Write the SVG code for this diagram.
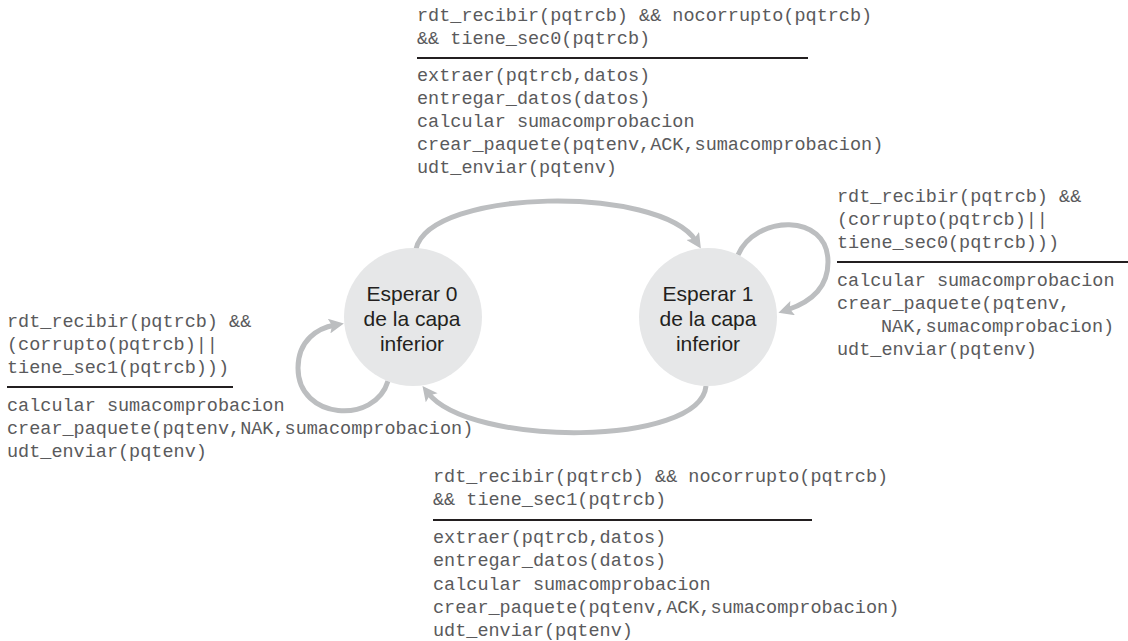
<svg xmlns="http://www.w3.org/2000/svg" width="1128" height="641" viewBox="0 0 1128 641">
<style>
.node circle{fill:#e6e7e8;stroke:none}
.node text{font-family:"Liberation Sans",Arial,sans-serif;font-size:21px;fill:#231f20;text-anchor:middle}
.lbl text{font-family:"Liberation Mono","Courier New",monospace;font-size:18.5px;fill:#5a5a5c}
.lbl line{stroke:#231f20;stroke-width:2}
.edge{fill:none;stroke:#bcbec0;stroke-width:5}
</style>
<defs>
<marker id="ah" viewBox="0 0 10 10" refX="4" refY="5" markerWidth="16" markerHeight="15" markerUnits="userSpaceOnUse" orient="auto">
<path d="M0,0 L10,5 L0,10 L2,5 z" fill="#bcbec0"/>
</marker>
</defs>
<rect width="1128" height="641" fill="#ffffff"/>
<g id="connectors">
<path class="edge" d="M416 249 C430 188,660 185,696 241" marker-end="url(#ah)"/>
<path class="edge" d="M706 386 C700 447,470 447,428 393" marker-end="url(#ah)"/>
<path class="edge" d="M388 381 C375 425,298 420,298 368 C298 340,318 328,335 325" marker-end="url(#ah)"/>
<path class="edge" d="M738 255 C755 215,828 212,828 262 C828 290,808 303,787 310" marker-end="url(#ah)"/>
</g>
<g id="state0" class="node">
<circle cx="413" cy="317" r="69"/>
<text x="412" y="301">Esperar 0</text>
<text x="412" y="326">de la capa</text>
<text x="412" y="351">inferior</text>
</g>
<g id="state1" class="node">
<circle cx="708" cy="317" r="69"/>
<text x="708" y="301">Esperar 1</text>
<text x="708" y="326">de la capa</text>
<text x="708" y="351">inferior</text>
</g>
<g id="label-top" class="lbl">
<text x="417" y="21">rdt_recibir(pqtrcb) &amp;&amp; nocorrupto(pqtrcb)</text>
<text x="417" y="44">&amp;&amp; tiene_sec0(pqtrcb)</text>
<line x1="417" y1="58" x2="808" y2="58"/>
<text x="417" y="81">extraer(pqtrcb,datos)</text>
<text x="417" y="104">entregar_datos(datos)</text>
<text x="417" y="127">calcular sumacomprobacion</text>
<text x="417" y="150">crear_paquete(pqtenv,ACK,sumacomprobacion)</text>
<text x="417" y="173">udt_enviar(pqtenv)</text>
</g>
<g id="label-right" class="lbl">
<text x="837" y="202">rdt_recibir(pqtrcb) &amp;&amp;</text>
<text x="837" y="225">(corrupto(pqtrcb)||</text>
<text x="837" y="248">tiene_sec0(pqtrcb)))</text>
<line x1="837" y1="262" x2="1128" y2="262"/>
<text x="837" y="286">calcular sumacomprobacion</text>
<text x="837" y="309">crear_paquete(pqtenv,</text>
<text x="881" y="332">NAK,sumacomprobacion)</text>
<text x="837" y="355">udt_enviar(pqtenv)</text>
</g>
<g id="label-left" class="lbl">
<text x="7" y="327">rdt_recibir(pqtrcb) &amp;&amp;</text>
<text x="7" y="350">(corrupto(pqtrcb)||</text>
<text x="7" y="373">tiene_sec1(pqtrcb)))</text>
<line x1="7" y1="387" x2="233" y2="387"/>
<text x="7" y="411">calcular sumacomprobacion</text>
<text x="7" y="434">crear_paquete(pqtenv,NAK,sumacomprobacion)</text>
<text x="7" y="457">udt_enviar(pqtenv)</text>
</g>
<g id="label-bottom" class="lbl">
<text x="433" y="482">rdt_recibir(pqtrcb) &amp;&amp; nocorrupto(pqtrcb)</text>
<text x="433" y="505">&amp;&amp; tiene_sec1(pqtrcb)</text>
<line x1="433" y1="520" x2="812" y2="520"/>
<text x="433" y="543">extraer(pqtrcb,datos)</text>
<text x="433" y="566">entregar_datos(datos)</text>
<text x="433" y="590">calcular sumacomprobacion</text>
<text x="433" y="613">crear_paquete(pqtenv,ACK,sumacomprobacion)</text>
<text x="433" y="636">udt_enviar(pqtenv)</text>
</g>
</svg>
